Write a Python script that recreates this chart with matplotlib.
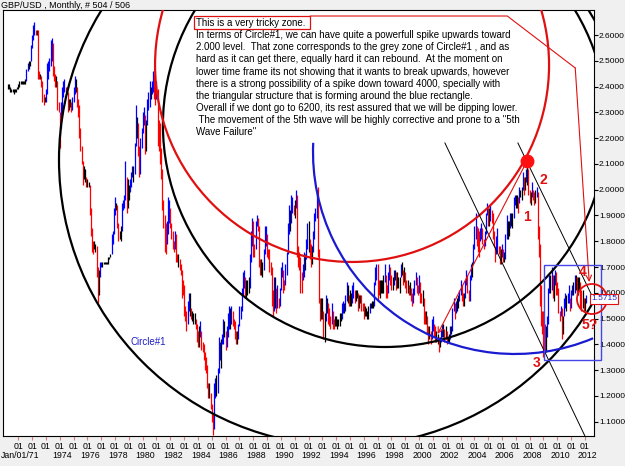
import numpy as np
import matplotlib.pyplot as plt
import matplotlib.transforms as mtransforms
from matplotlib.patches import Ellipse, Arc, Rectangle

plt.rcParams['font.family'] = ['Liberation Sans', 'DejaVu Sans']

# GBP/USD monthly bars, Apr 1970 .. Feb 2012 (low / high)
start_year = 1970 + 3 / 12

lo_70s = [2.39, 2.39, 2.38, 2.38, 2.38, 2.37, 2.38, 2.38, 2.39,
          2.39, 2.40, 2.41, 2.41, 2.41, 2.41, 2.41, 2.42, 2.46, 2.47, 2.48, 2.50,
          2.55, 2.58, 2.60, 2.60, 2.60, 2.43, 2.43, 2.43, 2.40, 2.34, 2.33, 2.34,
          2.34, 2.37, 2.43, 2.46, 2.48, 2.50, 2.44, 2.42, 2.40, 2.40, 2.31, 2.30,
          2.16, 2.24, 2.30, 2.36, 2.38, 2.38, 2.37, 2.30, 2.31, 2.32, 2.30, 2.31,
          2.34, 2.37, 2.38, 2.32, 2.28, 2.20, 2.15, 2.10, 2.02, 2.04, 2.03, 2.01,
          2.01, 2.01, 1.90, 1.82, 1.76, 1.75, 1.77, 1.76, 1.66, 1.56, 1.59, 1.66,
          1.70, 1.70, 1.71, 1.71, 1.71, 1.71, 1.71, 1.73, 1.74, 1.75, 1.79, 1.83,
          1.90, 1.92, 1.85, 1.80, 1.81, 1.80, 1.84, 1.92, 1.93, 1.96, 1.91, 1.93,
          1.96, 1.99, 2.01, 2.05, 2.03, 2.06, 2.17, 2.20, 2.13, 2.05, 2.06, 2.16]
hi_70s = [2.41, 2.41, 2.40, 2.39, 2.39, 2.39, 2.39, 2.39, 2.40,
          2.41, 2.42, 2.42, 2.42, 2.42, 2.42, 2.43, 2.47, 2.49, 2.50, 2.50, 2.56,
          2.60, 2.64, 2.65, 2.62, 2.62, 2.62, 2.46, 2.45, 2.44, 2.42, 2.37, 2.36,
          2.39, 2.49, 2.50, 2.51, 2.58, 2.59, 2.57, 2.48, 2.45, 2.44, 2.42, 2.34,
          2.30, 2.34, 2.40, 2.42, 2.43, 2.40, 2.40, 2.38, 2.35, 2.35, 2.34, 2.36,
          2.40, 2.44, 2.43, 2.40, 2.35, 2.33, 2.24, 2.17, 2.11, 2.09, 2.08, 2.05,
          2.04, 2.03, 2.02, 1.93, 1.85, 1.80, 1.80, 1.79, 1.78, 1.70, 1.69, 1.72,
          1.72, 1.72, 1.72, 1.72, 1.72, 1.72, 1.74, 1.74, 1.75, 1.83, 1.84, 1.93,
          1.97, 1.95, 1.94, 1.87, 1.84, 1.86, 1.95, 1.96, 1.98, 2.11, 2.05, 2.04,
          2.02, 2.04, 2.07, 2.09, 2.09, 2.18, 2.33, 2.28, 2.26, 2.17, 2.20, 2.24]

lo_80s = [2.22, 2.25, 2.14, 2.15, 2.25, 2.31, 2.32, 2.35, 2.37, 2.38, 2.35, 2.33,
          2.35, 2.17, 2.15, 2.10, 2.04, 1.92, 1.85, 1.76, 1.75, 1.79, 1.83, 1.87,
          1.85, 1.81, 1.77, 1.76, 1.77, 1.72, 1.72, 1.70, 1.69, 1.67, 1.58, 1.59,
          1.51, 1.49, 1.45, 1.48, 1.53, 1.51, 1.50, 1.49, 1.48, 1.48, 1.46, 1.41,
          1.39, 1.39, 1.43, 1.38, 1.37, 1.34, 1.30, 1.29, 1.23, 1.19, 1.19, 1.15,
          1.10, 1.05, 1.07, 1.19, 1.20, 1.21, 1.29, 1.34, 1.31, 1.40, 1.40, 1.43,
          1.38, 1.39, 1.43, 1.46, 1.46, 1.48, 1.47, 1.46, 1.42, 1.40, 1.40, 1.42,
          1.47, 1.50, 1.53, 1.59, 1.62, 1.58, 1.58, 1.59, 1.60, 1.62, 1.72, 1.78,
          1.74, 1.74, 1.77, 1.86, 1.84, 1.70, 1.67, 1.67, 1.66, 1.69, 1.75, 1.78,
          1.74, 1.73, 1.68, 1.67, 1.55, 1.51, 1.53, 1.54, 1.52, 1.54, 1.54, 1.55]
hi_80s = [2.30, 2.32, 2.29, 2.27, 2.35, 2.38, 2.42, 2.40, 2.42, 2.46, 2.45, 2.41,
          2.42, 2.39, 2.27, 2.26, 2.16, 2.08, 1.96, 1.90, 1.87, 1.88, 1.97, 1.96,
          1.93, 1.87, 1.84, 1.80, 1.84, 1.83, 1.75, 1.75, 1.73, 1.71, 1.69, 1.65,
          1.63, 1.55, 1.53, 1.57, 1.60, 1.60, 1.54, 1.53, 1.52, 1.52, 1.50, 1.48,
          1.45, 1.47, 1.49, 1.45, 1.41, 1.40, 1.37, 1.35, 1.32, 1.25, 1.25, 1.21,
          1.17, 1.13, 1.25, 1.27, 1.28, 1.31, 1.43, 1.41, 1.42, 1.44, 1.50, 1.49,
          1.45, 1.47, 1.52, 1.55, 1.54, 1.55, 1.53, 1.50, 1.49, 1.45, 1.45, 1.48,
          1.55, 1.55, 1.62, 1.68, 1.69, 1.66, 1.65, 1.65, 1.66, 1.75, 1.84, 1.89,
          1.88, 1.79, 1.88, 1.90, 1.89, 1.86, 1.73, 1.73, 1.72, 1.77, 1.86, 1.86,
          1.83, 1.77, 1.77, 1.72, 1.70, 1.61, 1.66, 1.66, 1.62, 1.63, 1.58, 1.62]

lo_90s = [1.61, 1.66, 1.60, 1.61, 1.63, 1.67, 1.75, 1.83, 1.84, 1.87, 1.91, 1.90,
          1.89, 1.93, 1.74, 1.70, 1.69, 1.60, 1.60, 1.65, 1.66, 1.69, 1.73, 1.77,
          1.76, 1.73, 1.70, 1.71, 1.76, 1.81, 1.88, 1.89, 1.74, 1.56, 1.49, 1.50,
          1.50, 1.42, 1.41, 1.49, 1.52, 1.48, 1.47, 1.46, 1.48, 1.46, 1.46, 1.47,
          1.47, 1.46, 1.47, 1.47, 1.49, 1.50, 1.52, 1.52, 1.53, 1.57, 1.56, 1.55,
          1.55, 1.55, 1.56, 1.58, 1.56, 1.57, 1.58, 1.53, 1.54, 1.56, 1.53, 1.53,
          1.50, 1.51, 1.51, 1.50, 1.50, 1.52, 1.54, 1.54, 1.54, 1.55, 1.63, 1.65,
          1.57, 1.59, 1.58, 1.60, 1.60, 1.60, 1.64, 1.58, 1.58, 1.60, 1.65, 1.63,
          1.61, 1.61, 1.63, 1.65, 1.61, 1.62, 1.62, 1.60, 1.66, 1.67, 1.63, 1.64,
          1.62, 1.60, 1.60, 1.59, 1.59, 1.57, 1.55, 1.56, 1.59, 1.63, 1.60, 1.59]
hi_90s = [1.70, 1.72, 1.69, 1.65, 1.71, 1.76, 1.87, 1.94, 1.92, 1.98, 1.97, 1.94,
          1.96, 2.00, 1.98, 1.78, 1.76, 1.74, 1.68, 1.71, 1.76, 1.75, 1.81, 1.87,
          1.88, 1.81, 1.79, 1.78, 1.84, 1.91, 1.93, 2.00, 2.01, 1.77, 1.58, 1.58,
          1.58, 1.53, 1.52, 1.59, 1.58, 1.56, 1.54, 1.51, 1.56, 1.53, 1.50, 1.51,
          1.51, 1.50, 1.50, 1.52, 1.52, 1.56, 1.57, 1.56, 1.59, 1.64, 1.63, 1.59,
          1.61, 1.60, 1.63, 1.64, 1.61, 1.61, 1.61, 1.60, 1.59, 1.59, 1.59, 1.56,
          1.56, 1.55, 1.54, 1.53, 1.55, 1.56, 1.56, 1.57, 1.57, 1.64, 1.70, 1.71,
          1.71, 1.65, 1.65, 1.65, 1.65, 1.67, 1.71, 1.67, 1.63, 1.68, 1.71, 1.70,
          1.67, 1.66, 1.69, 1.69, 1.68, 1.68, 1.66, 1.66, 1.71, 1.72, 1.69, 1.70,
          1.68, 1.65, 1.65, 1.63, 1.64, 1.62, 1.60, 1.62, 1.65, 1.68, 1.66, 1.63]

lo_00s = [1.60, 1.56, 1.56, 1.55, 1.48, 1.48, 1.48, 1.44, 1.40, 1.42, 1.40, 1.42,
          1.45, 1.43, 1.41, 1.41, 1.40, 1.37, 1.39, 1.41, 1.43, 1.43, 1.41, 1.42,
          1.40, 1.41, 1.41, 1.42, 1.44, 1.45, 1.53, 1.50, 1.52, 1.53, 1.54, 1.57,
          1.59, 1.57, 1.55, 1.55, 1.58, 1.63, 1.60, 1.57, 1.57, 1.65, 1.66, 1.71,
          1.77, 1.81, 1.78, 1.76, 1.74, 1.80, 1.81, 1.79, 1.77, 1.78, 1.83, 1.90,
          1.86, 1.86, 1.88, 1.87, 1.81, 1.78, 1.72, 1.75, 1.76, 1.75, 1.71, 1.71,
          1.74, 1.72, 1.72, 1.73, 1.81, 1.81, 1.82, 1.85, 1.86, 1.85, 1.89, 1.94,
          1.93, 1.93, 1.91, 1.95, 1.97, 1.96, 2.00, 1.98, 2.00, 2.03, 2.02, 1.98,
          1.95, 1.94, 1.97, 1.96, 1.94, 1.95, 1.97, 1.81, 1.74, 1.55, 1.47, 1.44,
          1.35, 1.37, 1.37, 1.43, 1.48, 1.60, 1.60, 1.61, 1.58, 1.57, 1.63, 1.59]
hi_00s = [1.67, 1.64, 1.60, 1.61, 1.58, 1.53, 1.53, 1.51, 1.47, 1.47, 1.45, 1.50,
          1.51, 1.48, 1.47, 1.45, 1.44, 1.43, 1.43, 1.46, 1.48, 1.48, 1.46, 1.47,
          1.45, 1.43, 1.44, 1.47, 1.47, 1.54, 1.58, 1.56, 1.57, 1.58, 1.59, 1.61,
          1.65, 1.63, 1.60, 1.60, 1.65, 1.69, 1.67, 1.61, 1.67, 1.71, 1.72, 1.79,
          1.86, 1.91, 1.86, 1.85, 1.84, 1.85, 1.87, 1.85, 1.81, 1.84, 1.91, 1.95,
          1.93, 1.93, 1.94, 1.92, 1.91, 1.84, 1.78, 1.82, 1.85, 1.78, 1.78, 1.77,
          1.79, 1.77, 1.76, 1.83, 1.90, 1.88, 1.88, 1.91, 1.91, 1.91, 1.97, 1.98,
          1.98, 1.98, 1.97, 2.01, 2.00, 2.01, 2.07, 2.05, 2.05, 2.08, 2.11, 2.08,
          2.00, 1.99, 2.03, 2.00, 1.99, 2.00, 2.01, 1.99, 1.86, 1.79, 1.63, 1.53,
          1.53, 1.48, 1.47, 1.51, 1.62, 1.67, 1.67, 1.70, 1.67, 1.67, 1.69, 1.68]

lo_10s = [1.59, 1.52, 1.49, 1.51, 1.42, 1.44, 1.51, 1.54, 1.53, 1.56, 1.56, 1.53,
          1.54, 1.59, 1.59, 1.60, 1.61, 1.59, 1.59, 1.61, 1.54, 1.53, 1.54, 1.53,
          1.53, 1.56]
hi_10s = [1.64, 1.62, 1.53, 1.55, 1.54, 1.51, 1.58, 1.60, 1.59, 1.60, 1.63, 1.58,
          1.61, 1.63, 1.64, 1.67, 1.67, 1.66, 1.66, 1.66, 1.64, 1.61, 1.61, 1.58,
          1.58, 1.59]

last_price = 1.5715

text_lines = [
    'This is a very tricky zone.',
    'In terms of Circle#1, we can have quite a powerfull spike upwards toward',
    '2.000 level.  That zone corresponds to the grey zone of Circle#1 , and as',
    'hard as it can get there, equally hard it can rebound.  At the moment on',
    'lower time frame its not showing that it wants to break upwards, however',
    'there is a strong possibility of a spike down toward 4000, specially with',
    'the triangular structure that is forming around the blue rectangle.',
    'Overall if we dont go to 6200, its rest assured that we will be dipping lower.',
    ' The movement of the 5th wave will be highly corrective and prone to a "5th',
    'Wave Failure"',
]

year_ticks = [1974, 1976, 1978, 1980, 1982, 1984, 1986, 1988, 1990, 1992,
              1994, 1996, 1998, 2000, 2002, 2004, 2006, 2008, 2010, 2012]

lows = np.array(lo_70s + lo_80s + lo_90s + lo_00s + lo_10s)
highs = np.array(hi_70s + hi_80s + hi_90s + hi_00s + hi_10s)
t = start_year + np.arange(len(lows)) / 12.0

mid = (lows + highs) / 2
d = np.diff(mid, prepend=mid[0])
cols = np.where(d > 0.012, '#0000ff', np.where(d < -0.012, '#ff0000', '#000000'))

fig = plt.figure(figsize=(6.25, 4.66), dpi=100)
fig.patch.set_facecolor('#f0f0f0')
ax = fig.add_axes([3 / 625, 30 / 466, 591 / 625, 426 / 466])
ax.set_facecolor('white')
ax.set_xlim(1969.893, 2012.657)
ax.set_ylim(1.0445, 2.697)

ax.vlines(t, lows, highs, colors=cols, lw=0.9, zorder=2)

# circles
ax.add_patch(Ellipse((1994.64, 2.1151), 41.39, 2.2188, fill=False, ec='black', lw=1.6, zorder=3))
ax.add_patch(Ellipse((1997.53, 2.2509), 32.13, 1.7223, fill=False, ec='black', lw=1.6, zorder=3))
ax.add_patch(Ellipse((1995.15, 2.4836), 28.51, 1.528, fill=False, ec='#e01010', lw=1.6, zorder=3))

bw, bh = 29.23, 1.5671
def stretch(deg):
    r = np.deg2rad(deg)
    return np.rad2deg(np.arctan2(bh / bw * np.sin(r), np.cos(r))) % 360
ax.add_patch(Arc((2006.94, 2.1462), bw, bh, theta1=stretch(177.4), theta2=stretch(292.75),
                 ec='#1a1ad0', lw=1.6, zorder=3))

# thin trend lines
ax.plot([2001.87, 2012.0], [2.1811, 1.0445], color='black', lw=0.7, zorder=3)
ax.plot([2007.15, 2012.66], [2.1811, 1.5721], color='black', lw=0.7, zorder=3, clip_on=False)

# red wave line to the 2001 low
ax.annotate('', xy=(2001.34, 1.4402), xytext=(2007.81, 2.1112),
            arrowprops=dict(arrowstyle='->', color='#e01010', lw=0.8, shrinkA=0, shrinkB=0), zorder=4)
ax.plot([2007.81], [2.1112], 'o', color='#ff1010', ms=9, zorder=5)

# blue rectangle and small red circle
ax.add_patch(Rectangle((2009.04, 1.3393), 4.12, 0.3685, fill=False, ec='#4545e8', lw=1.0,
                       zorder=4, clip_on=False))
ax.add_patch(Ellipse((2012.51, 1.576), 2.17, 0.1164, fill=False, ec='#e01010', lw=1.3,
                     zorder=5, clip_on=False))

# red callout line from text box to the arrow
ax.plot([1992.13, 2006.38, 2011.30], [2.6737, 2.6737, 2.472], color='#e01010', lw=0.8, zorder=4)
ax.annotate('', xy=(2012.31, 1.6419), xytext=(2011.30, 2.472),
            arrowprops=dict(arrowstyle='->', color='#e01010', lw=0.8, shrinkA=0, shrinkB=0), zorder=4)
ax.add_patch(Rectangle((1983.72, 2.6233), 8.41, 0.0504, fill=False, ec='#e01010', lw=0.9, zorder=4))

for i, line in enumerate(text_lines):
    ax.text(1983.86, 2.6477 - i * 0.04732, line, fontsize=7.0, va='center', ha='left', zorder=6)

# wave labels
for lab, x, y in [('1', 2007.81, 1.894), ('2', 2008.97, 2.0376), ('3', 2008.53, 1.3277),
                  ('4', 2011.86, 1.6807), ('5?', 2012.37, 1.4751)]:
    ax.text(x, y, lab, color='#e01010', fontsize=10, fontweight='bold',
            ha='center', va='center', zorder=6, clip_on=False)
ax.text(1980.39, 1.4092, 'Circle#1', color='#2020c8', fontsize=7, ha='center', va='center')

# axes styling
for s in ax.spines.values():
    s.set_color('black')
    s.set_linewidth(0.8)
ax.yaxis.tick_right()
ax.set_yticks(np.arange(1.1, 2.61, 0.1))
ax.set_yticklabels(['%.4f' % v for v in np.arange(1.1, 2.61, 0.1)])
ax.tick_params(axis='y', direction='out', length=3, width=0.8, labelsize=6.0, pad=0.5, colors='black')
ax.set_xticks(np.arange(1971, 2013))
ax.set_xticklabels(['01'] * 42)
ax.tick_params(axis='x', direction='out', length=3, width=0.8, labelsize=6.3, pad=1,
               color='#d08080', labelcolor='black')

trans = mtransforms.blended_transform_factory(ax.transData, fig.transFigure)
fig.text(0.5 / 625, 1 - 456 / 466, 'Jan/01/71', fontsize=6.3, ha='left', va='center')
for yr in year_ticks:
    ax.text(yr + 0.2, 1 - 456 / 466, str(yr), transform=trans, fontsize=6.3, ha='center', va='center')

# last price box
fig.text(591 / 625, 1 - 299 / 466, '%.4f' % last_price, color='#2020c8', fontsize=6.0,
         ha='left', va='center', zorder=10,
         bbox=dict(boxstyle='square,pad=0.15', fc='white', ec='#e01010', lw=0.8))

fig.text(1 / 625, 1 - 5 / 466, 'GBP/USD , Monthly, # 504 / 506', fontsize=6.5, ha='left', va='center')

fig.savefig('out.png', dpi=100, facecolor=fig.get_facecolor())
